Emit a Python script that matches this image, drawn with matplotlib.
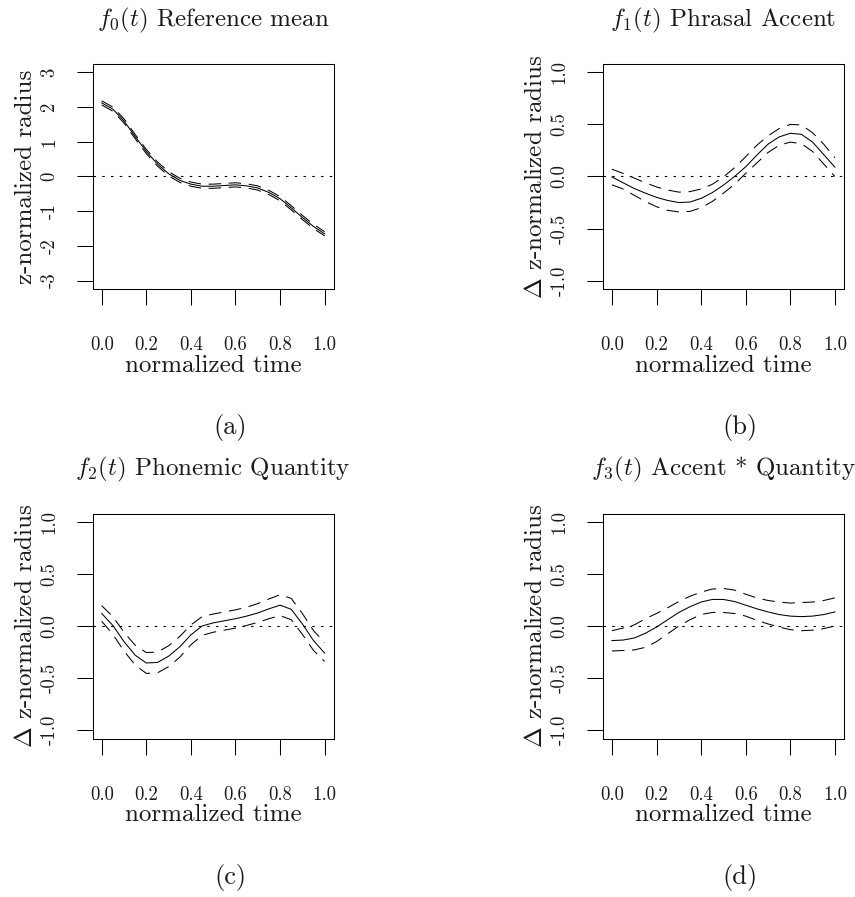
import numpy as np
import matplotlib
matplotlib.use("Agg")
import matplotlib.pyplot as plt

plt.rcParams['font.family'] = 'cmr10'
plt.rcParams['mathtext.fontset'] = 'cm'
plt.rcParams['axes.unicode_minus'] = False
plt.rcParams['lines.scale_dashes'] = False

# normalized time grid (read every 0.05)
t = [0.0, 0.05, 0.1, 0.15, 0.2, 0.25, 0.3, 0.35, 0.4, 0.45, 0.5,
     0.55, 0.6, 0.65, 0.7, 0.75, 0.8, 0.85, 0.9, 0.95, 1.0]

# f0: reference mean
a_mean = [2.12, 1.94, 1.60, 1.15, 0.72, 0.36, 0.08, -0.11, -0.22, -0.28, -0.28,
          -0.26, -0.24, -0.27, -0.33, -0.46, -0.64, -0.90, -1.18, -1.44, -1.65]
a_upper = [2.18, 2.00, 1.66, 1.21, 0.78, 0.42, 0.14, -0.05, -0.16, -0.22, -0.22,
           -0.20, -0.18, -0.21, -0.27, -0.40, -0.58, -0.84, -1.12, -1.38, -1.59]
a_lower = [2.06, 1.88, 1.54, 1.09, 0.66, 0.30, 0.02, -0.17, -0.28, -0.34, -0.34,
           -0.32, -0.30, -0.33, -0.39, -0.52, -0.70, -0.96, -1.24, -1.50, -1.71]

# f1: phrasal accent
b_mean = [-0.005, -0.06, -0.115, -0.16, -0.20, -0.23, -0.25, -0.245, -0.21, -0.155, -0.083,
          0.0, 0.093, 0.205, 0.31, 0.38, 0.415, 0.405, 0.33, 0.21, 0.09]
b_upper = [0.07, 0.03, -0.015, -0.06, -0.10, -0.13, -0.15, -0.145, -0.12, -0.075, -0.005,
           0.085, 0.19, 0.30, 0.39, 0.46, 0.50, 0.495, 0.42, 0.31, 0.18]
b_lower = [-0.08, -0.12, -0.18, -0.24, -0.29, -0.325, -0.34, -0.335, -0.30, -0.24, -0.16,
           -0.075, 0.03, 0.13, 0.23, 0.30, 0.33, 0.315, 0.24, 0.12, 0.0]

# f2: phonemic quantity
c_mean = [0.12, 0.005, -0.15, -0.28, -0.355, -0.35, -0.29, -0.20, -0.085, 0.0, 0.03,
          0.05, 0.07, 0.095, 0.125, 0.165, 0.20, 0.16, 0.02, -0.14, -0.26]
c_upper = [0.195, 0.09, -0.06, -0.185, -0.255, -0.25, -0.19, -0.10, 0.01, 0.09, 0.115,
           0.135, 0.155, 0.18, 0.215, 0.26, 0.30, 0.265, 0.12, -0.045, -0.16]
c_lower = [0.045, -0.08, -0.24, -0.375, -0.455, -0.45, -0.39, -0.30, -0.18, -0.09, -0.06,
           -0.04, -0.02, 0.005, 0.035, 0.07, 0.10, 0.06, -0.08, -0.235, -0.34]

# f3: accent * quantity
d_mean = [-0.14, -0.135, -0.115, -0.07, -0.01, 0.06, 0.13, 0.185, 0.23, 0.255, 0.255,
          0.235, 0.20, 0.165, 0.135, 0.11, 0.095, 0.09, 0.095, 0.11, 0.135]
d_upper = [-0.045, -0.02, 0.01, 0.07, 0.12, 0.175, 0.235, 0.285, 0.325, 0.355, 0.36,
           0.345, 0.305, 0.27, 0.245, 0.23, 0.22, 0.225, 0.23, 0.245, 0.27]
d_lower = [-0.24, -0.235, -0.23, -0.205, -0.15, -0.075, 0.0, 0.06, 0.11, 0.13, 0.13,
           0.12, 0.095, 0.055, 0.02, -0.01, -0.035, -0.045, -0.04, -0.025, 0.0]

xticks = [0.0, 0.2, 0.4, 0.6, 0.8, 1.0]
xticklabels = ['0.0', '0.2', '0.4', '0.6', '0.8', '1.0']
yticks_a = [-3, -2, -1, 0, 1, 2, 3]
yticklabels_a = ['-3', '-2', '-1', '0', '1', '2', '3']
yticks_d = [-1.0, -0.5, 0.0, 0.5, 1.0]
yticklabels_d = ['-1.0', '-0.5', '0.0', '0.5', '1.0']

titles = [r'$f_0(t)$ Reference mean', r'$f_1(t)$ Phrasal Accent',
          r'$f_2(t)$ Phonemic Quantity', r'$f_3(t)$ Accent * Quantity']
ylabels = ['z-normalized radius', r'$\Delta$ z-normalized radius',
           r'$\Delta$ z-normalized radius', r'$\Delta$ z-normalized radius']
tags = ['(a)', '(b)', '(c)', '(d)']

W, H = 855, 897
fig = plt.figure(figsize=(W / 100, H / 100), dpi=100)

# box positions in pixels: left, top, width, height
boxes = [(92.8, 64, 240.8, 225), (603, 64, 240.8, 225),
         (92.8, 513.5, 240.8, 225), (603, 513.5, 240.8, 225)]

panels = [(a_mean, a_upper, a_lower, 3, yticks_a, yticklabels_a),
          (b_mean, b_upper, b_lower, 1, yticks_d, yticklabels_d),
          (c_mean, c_upper, c_lower, 1, yticks_d, yticklabels_d),
          (d_mean, d_upper, d_lower, 1, yticks_d, yticklabels_d)]

dashed = (0, (9, 5.5))
dotted = (0, (1.8, 4.5))
ink = '#1a1a1a'

for i, (mean, upper, lower, ymax, yt, ytl) in enumerate(panels):
    l, tp, w, h = boxes[i]
    ax = fig.add_axes([l / W, (H - tp - h) / H, w / W, h / H])
    ax.plot(t, mean, color='black', lw=0.75)
    ax.plot(t, upper, color='black', lw=0.75, linestyle=dashed)
    ax.plot(t, lower, color='black', lw=0.75, linestyle=dashed)
    ax.axhline(0, color='black', lw=0.8, linestyle=dotted)

    ax.set_xlim(-0.04, 1.04)
    ax.set_ylim(-ymax * 1.08, ymax * 1.08)
    ax.set_xticks(xticks)
    ax.set_xticklabels(xticklabels)
    ax.set_yticks(yt)
    ax.set_yticklabels(ytl, rotation=90, va='center')
    ax.tick_params(axis='x', length=11.2, width=0.75, pad=22.7, labelsize=13.5,
                   labelcolor=ink)
    ax.tick_params(axis='y', length=11.2, width=0.75, pad=13.5, labelsize=13.5,
                   labelcolor=ink)
    for s in ax.spines.values():
        s.set_linewidth(0.75)

    ax.text(0.5, 1 + 38 / h, titles[i], transform=ax.transAxes,
            ha='center', va='baseline', fontsize=18, color=ink)
    ax.text(0.5, -82.7 / h, 'normalized time', transform=ax.transAxes,
            ha='center', va='baseline', fontsize=18, color=ink)
    ax.text(-60.5 / w, 0.5, ylabels[i], transform=ax.transAxes, color=ink,
            rotation=90, rotation_mode='anchor', ha='center', va='baseline', fontsize=18)
    ax.text(0.57, -145 / h, tags[i], transform=ax.transAxes,
            ha='center', va='baseline', fontsize=19, color=ink)

fig.savefig('out.png', dpi=100)
